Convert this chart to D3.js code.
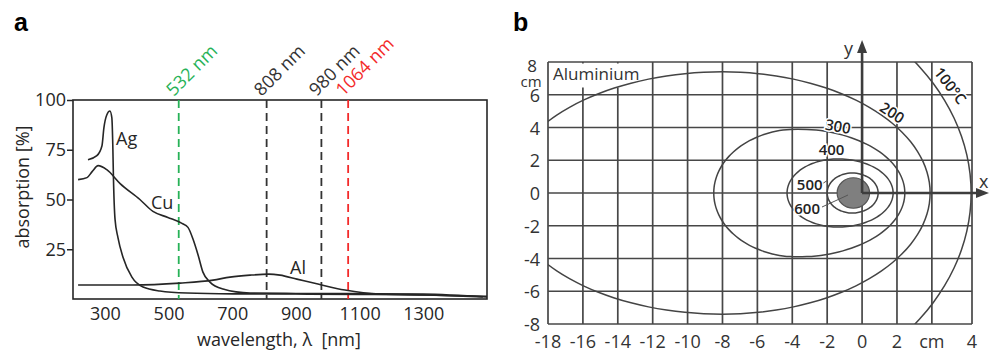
<!DOCTYPE html>
<html>
<head>
<meta charset="utf-8">
<script src="https://cdn.jsdelivr.net/npm/d3@7"></script>
<style>
  body { margin: 0; background: #fff; }
  svg { display: block; font-family: "Open Sans", sans-serif; }
</style>
</head>
<body>
<svg width="992" height="352"></svg>
<script>
// ---- panel a : absorption spectra
var agNm  = [247, 275, 291, 297, 306, 316, 322, 325, 327, 332, 341, 357, 385, 420, 473, 558, 702, 900, 1100, 1300, 1500];
var agAbs = [70, 72, 77, 86, 92.5, 94.5, 91, 77, 61, 40, 31, 21, 11, 6, 4, 3, 2.6, 2.5, 2.3, 2, 1.3];
var cuNm  = [216, 244, 260, 279, 306, 348, 410, 451, 498, 542, 561, 577, 593, 608, 630, 671, 756, 900, 1100, 1300, 1500];
var cuAbs = [60, 61, 64, 67, 65, 58, 50, 44, 41, 38, 36, 30, 22, 13.5, 8.5, 5, 3, 2.8, 2.7, 2.5, 1];
var alNm  = [216, 388, 536, 640, 693, 756, 815, 850, 903, 969, 1054, 1164, 1321, 1487];
var alAbs = [7, 7, 8, 9.5, 11, 12, 12.5, 12, 10, 7.5, 4.5, 2.5, 2, 1];
var laserNm = [532, 808, 980, 1064];
var laserColor = ["#27b257", "#333333", "#333333", "#f32a2a"];
var xTicksA = [300, 500, 700, 900, 1100, 1300];
var yTicksA = [25, 50, 75, 100];

// ---- panel b : isotherms, aluminium
var isoTemp  = ["100°C", "200", "300", "400", "500"];
var isoLeft  = [-26.3, -20.4, -8.5, -4.3, -2.0];
var isoRight = [6.25, 3.9, 2.45, 1.78, 0.92];
var isoPeak  = [-10, -8, -3.7, -1.4, -0.57];
var isoHalf  = [13.4, 7.4, 3.9, 2.08, 1.22];
var poolX = -0.5, poolR = 0.93;
var gridX = d3.range(-18, 5, 2);
var gridY = d3.range(-8, 7, 2);
var xTickTextB = ["-18", "-16", "-14", "-12", "-10", "-8", "-6", "-4", "-2", "0", "2", "cm"];
var yTickTextB = ["-8", "-6", "-4", "-2", "0", "2", "4", "6"];

var svg = d3.select("svg");
var fs = "18px";

// ===================== panel a
var xA = d3.scaleLinear().domain([200, 1500]).range([73, 487]);
var yA = d3.scaleLinear().domain([0, 100]).range([299, 100]);
var ink = "#262626";

svg.append("text").attr("x", 14).attr("y", 31).text("a")
    .style("font-family", "'Liberation Sans', Arial, sans-serif")
    .style("font-weight", "bold").style("font-size", "25px");

var ga = svg.append("g");

// frame
ga.append("rect").attr("x", xA(200)).attr("y", yA(100))
    .attr("width", xA(1500) - xA(200)).attr("height", yA(0) - yA(100))
    .attr("fill", "none").attr("stroke", ink).attr("stroke-width", 1.6);

// y axis ticks
var yAxisA = d3.axisLeft(yA).tickValues(yTicksA).tickSize(6).tickPadding(1);
ga.append("g").attr("transform", "translate(" + xA(200) + ",0)").call(yAxisA)
    .call(function (g) {
        g.select(".domain").remove();
        g.selectAll("line").attr("stroke", ink).attr("stroke-width", 1.5);
        g.selectAll("text").style("font-size", fs).style("font-family", "'Open Sans'").attr("fill", ink);
    });

// x tick labels (no tick marks)
var xAxisA = d3.axisBottom(xA).tickValues(xTicksA).tickFormat(d3.format("d")).tickSize(0).tickPadding(8);
ga.append("g").attr("transform", "translate(0," + yA(0) + ")").call(xAxisA)
    .call(function (g) {
        g.select(".domain").remove();
        g.selectAll("text").style("font-size", fs).style("font-family", "'Open Sans'").attr("fill", ink);
    });

ga.append("text").attr("x", 279).attr("y", 346).attr("text-anchor", "middle")
    .style("font-size", fs).attr("fill", ink).text("wavelength, λ\u00a0 [nm]");
ga.append("text").attr("transform", "translate(29,187) rotate(-90)").attr("text-anchor", "middle")
    .style("font-size", fs).attr("fill", ink).text("absorption [%]");

// laser lines
laserNm.forEach(function (nm, i) {
    ga.append("line").attr("x1", xA(nm)).attr("x2", xA(nm))
        .attr("y1", yA(100)).attr("y2", yA(0))
        .attr("stroke", laserColor[i]).attr("stroke-width", 1.8)
        .attr("stroke-dasharray", "8,5");
    ga.append("text")
        .attr("transform", "translate(" + (xA(nm) - 5) + "," + (yA(100) - 3) + ") rotate(-45)")
        .style("font-size", fs).attr("fill", laserColor[i])
        .text(nm + " nm");
});

var lineA = d3.line().curve(d3.curveMonotoneX);
function spectrum(nm, abs) {
    ga.append("path")
        .attr("d", lineA(nm.map(function (d, i) { return [xA(d), yA(abs[i])]; })))
        .attr("fill", "none").attr("stroke", ink).attr("stroke-width", 1.6);
}
spectrum(alNm, alAbs);
spectrum(cuNm, cuAbs);
spectrum(agNm, agAbs);

ga.append("text").attr("x", 116).attr("y", 145).style("font-size", fs).attr("fill", ink).text("Ag");
ga.append("text").attr("x", 151).attr("y", 209).style("font-size", fs).attr("fill", ink).text("Cu");
ga.append("text").attr("x", 290).attr("y", 274).style("font-size", fs).attr("fill", ink).text("Al");

// ===================== panel b
var xB = d3.scaleLinear().domain([-18, 6.3]).range([548, 972]);
var yB = d3.scaleLinear().domain([-8, 8]).range([324, 62]);
var gcol = "#474747";

svg.append("text").attr("x", 513).attr("y", 31).text("b")
    .style("font-family", "'Liberation Sans', Arial, sans-serif")
    .style("font-weight", "bold").style("font-size", "25px");

var gb = svg.append("g");

gb.append("clipPath").attr("id", "clipB").append("rect")
    .attr("x", xB(-18)).attr("y", yB(8))
    .attr("width", xB(6.3) - xB(-18)).attr("height", yB(-8) - yB(8));

// grid
gb.selectAll("line.gx").data(gridX).enter().append("line")
    .attr("x1", function (d) { return xB(d); }).attr("x2", function (d) { return xB(d); })
    .attr("y1", yB(8)).attr("y2", yB(-8))
    .attr("stroke", gcol).attr("stroke-width", 1.7);
gb.selectAll("line.gy").data(gridY.concat([8])).enter().append("line")
    .attr("y1", function (d) { return yB(d); }).attr("y2", function (d) { return yB(d); })
    .attr("x1", xB(-18)).attr("x2", xB(6.3))
    .attr("stroke", gcol).attr("stroke-width", 1.7);
gb.append("line").attr("x1", xB(6.3)).attr("x2", xB(6.3)).attr("y1", yB(8)).attr("y2", yB(-8))
    .attr("stroke", gcol).attr("stroke-width", 1.7);

// white box behind material name
gb.append("rect").attr("x", xB(-18) + 1.5).attr("y", yB(8) + 1.5)
    .attr("width", 99).attr("height", 24).attr("fill", "#fff");
gb.append("text").attr("x", 553).attr("y", 80).style("font-size", "17px").attr("fill", "#333").text("Aluminium");

// isotherms
var egg = d3.line().curve(d3.curveCardinalClosed);
var ci = gb.append("g").attr("clip-path", "url(#clipB)");
isoTemp.forEach(function (t, i) {
    var pts = d3.range(0, 72).map(function (k) {
        var a = k / 72 * 2 * Math.PI, c = Math.cos(a);
        var ax = c < 0 ? isoPeak[i] - isoLeft[i] : isoRight[i] - isoPeak[i];
        return [xB(isoPeak[i] + ax * c), yB(isoHalf[i] * Math.sin(a))];
    });
    ci.append("path").attr("d", egg(pts)).attr("fill", "none")
        .attr("stroke", "#444").attr("stroke-width", 1.5);
});

// melt pool
gb.append("ellipse").attr("cx", xB(poolX)).attr("cy", yB(0))
    .attr("rx", xB(poolX + poolR) - xB(poolX)).attr("ry", yB(0) - yB(poolR))
    .attr("fill", "#7f7f7f").attr("stroke", "#555").attr("stroke-width", 1.2);

// axes arrows
var acol = "#3d3d3d";
gb.append("line").attr("x1", xB(0)).attr("x2", xB(0)).attr("y1", yB(0)).attr("y2", 50)
    .attr("stroke", acol).attr("stroke-width", 2.6);
gb.append("path").attr("d", "M" + xB(0) + ",40 l-5,13 l10,0 z").attr("fill", acol);
gb.append("line").attr("x1", xB(0)).attr("x2", 978).attr("y1", yB(0)).attr("y2", yB(0))
    .attr("stroke", acol).attr("stroke-width", 2.6);
gb.append("path").attr("d", "M989," + yB(0) + " l-13,-5 l0,10 z").attr("fill", acol);
gb.append("text").attr("x", 844).attr("y", 55).style("font-size", fs).attr("fill", "#333").text("y");
gb.append("text").attr("x", 979).attr("y", 188).style("font-size", fs).attr("fill", "#333").text("x");

// isotherm labels
var isoLabels = [
    { t: "100°C", x: 5.05, y: 6.55, r: 52 },
    { t: "200", x: 1.72, y: 4.9, r: 33 },
    { t: "300", x: -1.38, y: 4.05, r: 10 },
    { t: "400", x: -1.75, y: 2.63, r: 0 },
    { t: "500", x: -3.0, y: 0.5, r: 0 },
    { t: "600", x: -3.15, y: -0.98, r: 0 }
];
gb.append("line").attr("x1", 822).attr("y1", 184).attr("x2", 828).attr("y2", 180)
    .attr("stroke", "#555").attr("stroke-width", 1);
gb.append("line").attr("x1", 822).attr("y1", 207).attr("x2", 848).attr("y2", 195)
    .attr("stroke", "#555").attr("stroke-width", 1);
gb.selectAll("text.iso").data(isoLabels).enter().append("text")
    .attr("transform", function (d) { return "translate(" + xB(d.x) + "," + yB(d.y) + ") rotate(" + d.r + ")"; })
    .attr("text-anchor", "middle").attr("dy", "0.35em")
    .style("font-size", "15px").style("font-weight", "600").attr("fill", "#222")
    .attr("stroke", "#fff").attr("stroke-width", 3).attr("paint-order", "stroke")
    .text(function (d) { return d.t; });

// tick labels
gb.selectAll("text.xt").data(gridX).enter().append("text")
    .attr("x", function (d) { return xB(d); }).attr("y", 348)
    .attr("text-anchor", "middle").style("font-size", fs).attr("fill", "#333")
    .text(function (d, i) { return xTickTextB[i]; });
gb.append("text").attr("x", xB(6.3)).attr("y", 348).attr("text-anchor", "middle")
    .style("font-size", fs).attr("fill", "#333").text("4");
gb.selectAll("text.yt").data(gridY).enter().append("text")
    .attr("x", 540).attr("y", function (d) { return yB(d) + 7; })
    .attr("text-anchor", "end").style("font-size", fs).attr("fill", "#333")
    .text(function (d, i) { return yTickTextB[i]; });
// top label "8" with the unit stacked below it
var top8 = gb.append("text").attr("x", 531).attr("y", yB(8) + 10)
    .attr("text-anchor", "middle").style("font-size", "17px").attr("fill", "#333");
top8.append("tspan").attr("x", 532).text("8");
top8.append("tspan").attr("x", 531).attr("dy", 15).style("font-size", "15px").text("cm");
</script>
</body>
</html>
